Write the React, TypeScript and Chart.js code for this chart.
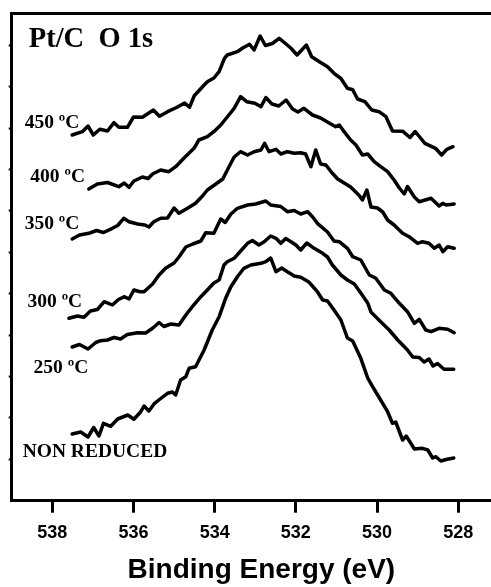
import React, { useEffect, useRef } from "react";
import { Chart, registerables } from "chart.js";

Chart.register(...registerables);

// ---- data (binding energy in eV, intensity in arbitrary units) ----
const e450 = [537.51,537.26,537.12,536.99,536.83,536.64,536.48,536.36,536.15,536.00,535.78,535.51,535.36,535.16,534.94,534.74,534.62,534.50,534.41,534.26,534.18,534.02,533.89,533.76,533.69,533.44,533.32,533.14,533.03,532.88,532.75,532.58,532.41,532.27,532.12,531.97,531.74,531.61,531.41,531.22,531.06,530.89,530.73,530.60,530.48,530.30,530.13,529.95,529.78,529.62,529.37,529.19,529.06,528.97,528.82,528.56,528.41,528.28,528.13];
const i450 = [365.7,369,374.7,365.7,371.4,369.7,378,373.4,373.4,383.7,383.4,390.7,384.4,389,393.2,397.7,393.4,405.2,409,415.7,419,422.7,429,442.4,445.7,449,452.4,456.5,450.7,464.7,455.2,457.2,462.4,457.7,452.4,445.7,455.7,444,438.7,434,427.4,422.2,412.4,411,401.7,399,390.7,389,384,369.7,369.5,363.2,369.2,364.7,357.4,352.4,345.7,351.4,354];

const e400 = [537.10,536.89,536.64,536.36,536.23,536.11,535.99,535.78,535.64,535.53,535.33,535.13,534.96,534.76,534.51,534.39,534.18,534.02,533.85,533.69,533.52,533.36,533.21,533.01,532.86,532.74,532.59,532.42,532.24,532.08,531.95,531.80,531.59,531.39,531.18,531.02,530.93,530.81,530.65,530.52,530.36,530.23,530.07,529.91,529.74,529.58,529.45,529.33,529.25,529.08,528.96,528.67,528.47,528.38,528.30,528.10];
const i400 = [311.7,316.7,318.2,314,317.7,313.4,319.7,323.7,322.2,326.7,330.7,329,334,342.4,352.4,360.7,364,369,375.7,383.7,392.4,404,399,397.4,394,403.2,396.7,394.7,400.7,391.7,388.7,392.4,385.7,382.7,377.7,374,375.7,369,360.7,355.7,345.7,346.7,339,334,329,320.7,312.7,306.7,314.2,303.7,299,302.4,294.7,297.4,295.7,296.7];

const e350 = [537.51,537.33,537.10,536.91,536.74,536.52,536.39,536.24,536.11,535.90,535.72,535.62,535.50,535.33,535.16,535.00,534.88,534.67,534.47,534.30,534.18,533.97,533.80,533.65,533.52,533.36,533.19,533.03,532.86,532.77,532.66,532.49,532.37,532.21,532.04,531.88,531.76,531.63,531.51,531.39,531.26,531.10,530.97,530.77,530.65,530.45,530.36,530.25,530.15,529.99,529.86,529.74,529.58,529.37,529.21,529.00,528.88,528.72,528.59,528.47,528.38,528.26,528.10];
const i350 = [261.7,265.7,267.4,270.2,268.2,272.4,275.2,282.4,279,276.7,275.7,273.7,279,282.4,282.7,292.7,287.4,292.4,297.4,304.7,310.7,316.7,321.7,333.7,343.7,349,345.7,349,350.7,357.4,349,351.4,346.7,349,347.4,348,346.7,334,350.7,336.7,335.7,327.4,321.7,316.7,313.7,305.7,300.7,310.7,293.7,292.7,288.7,280.7,275.7,267.4,264,257.4,259,257.4,252.4,255.7,249,254,252.4];

const e300 = [537.59,537.38,537.22,537.06,536.89,536.72,536.52,536.37,536.22,536.11,535.99,535.84,535.74,535.53,535.37,535.21,535.00,534.88,534.71,534.54,534.34,534.22,534.02,533.85,533.74,533.60,533.44,533.19,532.99,532.74,532.62,532.37,532.21,532.04,531.88,531.71,531.59,531.47,531.22,531.06,530.93,530.73,530.60,530.40,530.19,530.03,529.82,529.66,529.45,529.25,529.08,528.96,528.80,528.67,528.47,528.26,528.10];
const i300 = [182.4,184.7,183.4,189.7,191.2,199,195.7,201.2,204,201.7,210.7,209,209,216.7,225.7,232.4,237.7,243.7,253.7,256.7,259.7,268,267.4,281.7,278.2,286.7,292.4,295.7,296.7,299.7,295.7,294.2,289,290.2,286.7,289,284,277.4,268.7,259.7,259,252.4,244,240.7,225.7,222.4,210.7,207.4,197.4,189,177.4,181.4,170.7,169,172.4,171.4,168];

const e250 = [537.51,537.33,537.12,536.93,536.81,536.64,536.48,536.32,536.15,535.90,535.70,535.53,535.37,535.25,535.08,534.88,534.71,534.55,534.34,534.18,534.02,533.89,533.77,533.69,533.52,533.36,533.19,533.07,532.91,532.78,532.62,532.49,532.37,532.25,532.12,532.00,531.88,531.73,531.55,531.34,531.22,531.10,530.89,530.73,530.56,530.40,530.23,530.15,529.91,529.70,529.49,529.25,529.12,528.96,528.84,528.72,528.62,528.51,528.35,528.11];
const i250 = [153.7,156.2,151.7,158.2,160,160.7,163.2,161.7,166.2,168,167.7,172.4,178.2,174.2,176.7,175.7,185.7,194,204,210.7,217.7,220.7,235.7,239,242.4,249.7,257.4,260.2,255.7,259,264.7,262.4,257.4,262.2,259,255.7,250.7,257.7,252.4,247.4,243.7,235.7,225.7,220.7,216.7,207.7,197.7,188.7,179,170.7,160.7,150.7,143.7,143.2,138.7,141.7,134.7,137.2,131.4,131.4];

const eNR = [537.51,537.30,537.12,536.98,536.85,536.74,536.56,536.39,536.14,535.99,535.82,535.74,535.62,535.48,535.33,535.16,535.04,534.96,534.84,534.71,534.63,534.47,534.26,534.06,533.89,533.73,533.60,533.44,533.28,533.11,532.86,532.74,532.62,532.49,532.35,532.21,532.04,531.88,531.68,531.47,531.34,531.22,531.06,530.89,530.73,530.60,530.40,530.23,530.11,529.97,529.74,529.62,529.54,529.37,529.28,529.08,528.88,528.75,528.63,528.55,528.43,528.30,528.11];
const iNR = [66.7,68.7,63.7,73.2,64.7,77.4,74.4,81.7,85.7,81.4,89,94.7,89.7,97.4,102.2,107.4,108.7,105.7,120.7,124,132.4,134,150.7,170.7,184,202.4,214,224,232.4,235.7,237.4,239,242.7,229,232.7,229,224.7,223.4,218.7,209,200.7,199.7,190.7,180.7,162.7,159.7,142.4,122.7,114,104.7,89,77.4,78.7,60.7,64.7,51.7,52.4,50.7,42.7,44,39.7,41.2,42.7];

// curve labels: text and anchor (energy, intensity) of the label's left baseline
const curveLabelText = ["450 ºC", "400 ºC", "350 ºC", "300 ºC", "250 ºC", "NON REDUCED"];
const curveLabelE = [538.68, 538.54, 538.68, 538.61, 538.46, 538.73];
const curveLabelI = [372.5, 319, 271.5, 194, 128, 43.5];

const titleText = "Pt/C  O 1s";
const titleE = 538.58;
const titleI = 454;

const xTickValues = [538, 536, 534, 532, 530, 528];
const yTickValues = [41.5, 83, 124, 165.5, 207, 248.5, 290, 331, 372.5, 414, 455];
const xTitle = "Binding Energy (eV)";

const series = [
  { name: "450 ºC", e: e450, i: i450 },
  { name: "400 ºC", e: e400, i: i400 },
  { name: "350 ºC", e: e350, i: i350 },
  { name: "300 ºC", e: e300, i: i300 },
  { name: "250 ºC", e: e250, i: i250 },
  { name: "NON REDUCED", e: eNR, i: iNR },
];

const SANS = "'Liberation Sans', Arial, Helvetica, sans-serif";
const SERIF = "'Liberation Serif', 'Times New Roman', Times, serif";

export default function App() {
  const ref = useRef<HTMLCanvasElement>(null);

  useEffect(() => {
    if (!ref.current) return;
    const labelPlugin = {
      id: "curveLabels",
      afterDatasetsDraw(chart: any) {
        const { ctx } = chart;
        const x = chart.scales.x;
        const y = chart.scales.y;
        ctx.save();
        ctx.fillStyle = "#000";
        ctx.textAlign = "left";
        ctx.textBaseline = "alphabetic";
        ctx.font = `bold 19.5px ${SERIF}`;
        curveLabelText.forEach((t, k) => {
          ctx.fillText(t, x.getPixelForValue(curveLabelE[k]), y.getPixelForValue(curveLabelI[k]));
        });
        ctx.font = `bold 28.5px ${SERIF}`;
        ctx.fillText(titleText, x.getPixelForValue(titleE), y.getPixelForValue(titleI));
        ctx.restore();
      },
    };

    const chart = new Chart(ref.current, {
      type: "line",
      data: {
        datasets: series.map((s) => ({
          label: s.name,
          data: s.e.slice(0, Math.min(s.e.length, s.i.length)).map((e, k) => ({ x: e, y: s.i[k] })),
          borderColor: "#000",
          borderWidth: 3.5,
          pointRadius: 0,
          fill: false,
          tension: 0,
          borderJoinStyle: "round",
          borderCapStyle: "round",
        })),
      },
      options: {
        responsive: false,
        animation: false,
        devicePixelRatio: 1,
        layout: { padding: 0 },
        plugins: { legend: { display: false }, tooltip: { enabled: false } },
        scales: {
          x: {
            type: "linear",
            position: "bottom",
            reverse: true,
            min: 526.7,
            max: 539,
            afterBuildTicks: (s: any) => {
              s.ticks = xTickValues.map((v) => ({ value: v }));
            },
            afterFit: (s: any) => {
              s.height = 86.3;
            },
            grid: {
              display: true,
              drawOnChartArea: false,
              drawTicks: true,
              tickLength: 12,
              tickWidth: 3,
              tickColor: "#000",
              color: "#000",
              lineWidth: 3,
            },
            border: { display: true, width: 3, color: "#000" },
            ticks: {
              color: "#000",
              padding: 10,
              maxRotation: 0,
              autoSkip: false,
              font: { family: SANS, size: 18, weight: "bold" },
              callback: (v: any) => String(v),
            },
            title: {
              display: true,
              text: xTitle,
              color: "#000",
              font: { family: SANS, size: 28, weight: "bold" },
              padding: { top: 0, bottom: 0 },
            },
          },
          x2: {
            type: "linear",
            position: "top",
            display: true,
            reverse: true,
            min: 526.7,
            max: 539,
            afterFit: (s: any) => {
              s.height = 13.3;
            },
            grid: { display: false },
            ticks: { display: false },
            border: { display: true, width: 3, color: "#000" },
          },
          y: {
            type: "linear",
            position: "left",
            min: 0,
            max: 487.4,
            afterBuildTicks: (s: any) => {
              s.ticks = yTickValues.map((v) => ({ value: v }));
            },
            afterFit: (s: any) => {
              s.width = 11.7;
            },
            grid: {
              display: true,
              drawOnChartArea: false,
              drawTicks: true,
              tickLength: 3,
              tickWidth: 2,
              tickColor: "#000",
            },
            ticks: { display: false },
            border: { display: true, width: 3, color: "#000" },
          },
        },
      },
      plugins: [labelPlugin],
    } as any);

    return () => chart.destroy();
  }, []);

  return (
    <div style={{ position: "absolute", left: 0, top: 0, width: 491, height: 587, overflow: "hidden", background: "#fff" }}>
      <canvas ref={ref} width={511} height={587} style={{ display: "block" }} />
    </div>
  );
}
